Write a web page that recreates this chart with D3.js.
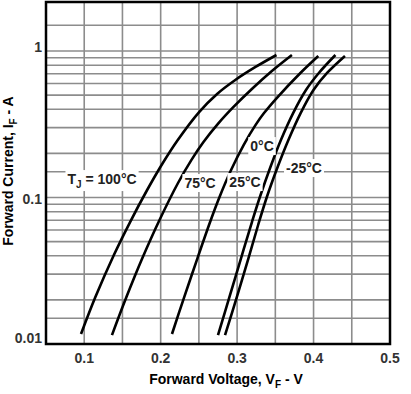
<!DOCTYPE html>
<html><head><meta charset="utf-8">
<script src="https://cdn.jsdelivr.net/npm/d3@7"></script>
<style>
html,body{margin:0;padding:0;background:#fff;}
svg{display:block;font-family:"Liberation Sans",Arial,sans-serif;}
</style></head>
<body><svg id="c" width="411" height="394"></svg>
<script>
// ---- data ----
const voltageTicks = [0.1, 0.2, 0.3, 0.4, 0.5];
const voltageTickLabels = ["0.1", "0.2", "0.3", "0.4", "0.5"];
const currentTicks = [0.01, 0.1, 1];
const currentTickLabels = ["0.01", "0.1", "1"];
const voltageGrid = [0.1, 0.15, 0.2, 0.25, 0.3, 0.35, 0.4, 0.45];
const currentGrid = [0.015, 0.02, 0.03, 0.04, 0.05, 0.06, 0.07, 0.08, 0.09, 0.1,
                     0.15, 0.2, 0.3, 0.4, 0.5, 0.6, 0.7, 0.8, 0.9, 1, 1.5];
const temperatures = ["100°C", "75°C", "25°C", "0°C", "-25°C"];
const vf100 = [0.0958, 0.1146, 0.1388, 0.1600, 0.1823, 0.2028, 0.2224, 0.2503, 0.2738, 0.2976, 0.3241, 0.3515];
const if100 = [0.0117, 0.0209, 0.0405, 0.068, 0.1125, 0.172, 0.247, 0.383, 0.509, 0.634, 0.778, 0.939];
const vf75 = [0.1363, 0.1552, 0.1761, 0.1985, 0.2227, 0.2401, 0.2560, 0.2749, 0.2953, 0.3207, 0.3455, 0.3717];
const if75 = [0.0115, 0.0209, 0.0386, 0.0702, 0.1256, 0.180, 0.239, 0.318, 0.415, 0.559, 0.730, 0.939];
const vf25 = [0.2148, 0.2308, 0.2482, 0.2656, 0.2770, 0.2921, 0.3085, 0.3242, 0.3352, 0.3530, 0.3828, 0.4062];
const if25 = [0.0117, 0.0209, 0.0386, 0.0702, 0.1008, 0.154, 0.228, 0.313, 0.377, 0.485, 0.708, 0.925];
const vf0 = [0.2750, 0.2899, 0.3052, 0.3194, 0.3298, 0.3436, 0.3573, 0.3733, 0.3901, 0.4069, 0.4286];
const if0 = [0.0115, 0.0209, 0.0386, 0.068, 0.1008, 0.1615, 0.247, 0.377, 0.542, 0.708, 0.939];
const vfm25 = [0.2842, 0.2996, 0.3149, 0.3275, 0.3389, 0.3530, 0.3671, 0.3831, 0.3999, 0.4177, 0.4411];
const ifm25 = [0.0115, 0.0209, 0.0386, 0.0649, 0.1008, 0.1615, 0.247, 0.377, 0.542, 0.708, 0.925];

// ---- layout ----
const L = 46, R = 390, T = 2, B = 344;
const svg = d3.select("#c");
const x = d3.scaleLinear().domain([0.05, 0.5]).range([L, R]);
const y = d3.scaleLog().domain([0.01, 2.16]).range([B, T]);

const font = '"Liberation Sans",Arial,sans-serif';
const gridColor = "#8c8c8c";

// grid
svg.append("g").selectAll("line").data(voltageGrid).join("line")
  .attr("x1", d => x(d)).attr("x2", d => x(d)).attr("y1", T).attr("y2", B)
  .attr("stroke", gridColor).attr("stroke-width", 1.6);
svg.append("g").selectAll("line").data(currentGrid).join("line")
  .attr("x1", L).attr("x2", R).attr("y1", d => y(d)).attr("y2", d => y(d))
  .attr("stroke", gridColor).attr("stroke-width", 1.6);

// curves
const series = [[vf100, if100], [vf75, if75], [vf25, if25], [vf0, if0], [vfm25, ifm25]];
const line = d3.line().x(d => x(d[0])).y(d => y(d[1])).curve(d3.curveCatmullRom.alpha(0.5));
svg.append("g").selectAll("path").data(series).join("path")
  .attr("d", s => line(s[0].map((v, i) => [v, s[1][i]])))
  .attr("fill", "none").attr("stroke", "#000").attr("stroke-width", 2.6)
  .attr("stroke-linecap", "butt");

// curve labels (anchored in data space)
const labelAnchors = [
  {t: 0, v: 0.1233, i: 0.1337, tj: true},
  {t: 1, v: 0.2515, i: 0.1256},
  {t: 2, v: 0.3103, i: 0.1276},
  {t: 3, v: 0.3326, i: 0.2246},
  {t: 4, v: 0.3875, i: 0.159}
];
const lg = svg.append("g");
labelAnchors.forEach(a => {
  const g = lg.append("g");
  const txt = g.append("text")
    .attr("x", x(a.v)).attr("y", y(a.i)).attr("dy", "0.36em")
    .attr("text-anchor", "middle")
    .attr("font-family", font).attr("font-weight", "bold").attr("font-size", 14)
    .attr("fill", "#222");
  if (a.tj) {
    txt.append("tspan").text("T");
    txt.append("tspan").attr("font-size", 10).attr("dy", 4).text("J");
    txt.append("tspan").attr("dy", -4).text(" = " + temperatures[a.t]);
  } else {
    txt.text(temperatures[a.t]);
  }
  const bb = txt.node().getBBox();
  g.insert("rect", "text").attr("x", bb.x - 2).attr("y", bb.y - 1)
    .attr("width", bb.width + 4).attr("height", bb.height + 2).attr("fill", "#fff");
});

// frame
svg.append("rect").attr("x", L).attr("y", T).attr("width", R - L).attr("height", B - T)
  .attr("fill", "none").attr("stroke", "#000").attr("stroke-width", 2.5);

// x tick labels
svg.append("g").selectAll("text").data(voltageTicks).join("text")
  .attr("x", d => x(d)).attr("y", 363)
  .attr("text-anchor", "middle").attr("font-family", font).attr("font-weight", "bold")
  .attr("font-size", 14).attr("fill", "#333")
  .text((d, i) => voltageTickLabels[i]);

// y tick labels
const yLabelShift = [-6, 1, -4];
svg.append("g").selectAll("text").data(currentTicks).join("text")
  .attr("x", 42).attr("y", (d, i) => y(d) + yLabelShift[i]).attr("dy", "0.36em")
  .attr("text-anchor", "end").attr("font-family", font).attr("font-weight", "bold")
  .attr("font-size", 14).attr("fill", "#333")
  .text((d, i) => currentTickLabels[i]);

// axis titles
const xt = svg.append("text").attr("x", 226).attr("y", 384)
  .attr("text-anchor", "middle").attr("font-family", font).attr("font-weight", "bold")
  .attr("font-size", 14).attr("fill", "#000");
xt.append("tspan").text("Forward Voltage, V");
xt.append("tspan").attr("font-size", 10).attr("dy", 4).text("F");
xt.append("tspan").attr("dy", -4).text(" - V");

const yt = svg.append("text").attr("transform", "translate(13,171) rotate(-90)")
  .attr("text-anchor", "middle").attr("font-family", font).attr("font-weight", "bold")
  .attr("font-size", 14).attr("fill", "#000");
yt.append("tspan").text("Forward Current, I");
yt.append("tspan").attr("font-size", 10).attr("dy", 4).text("F");
yt.append("tspan").attr("dy", -4).text(" - A");
</script></body></html>
